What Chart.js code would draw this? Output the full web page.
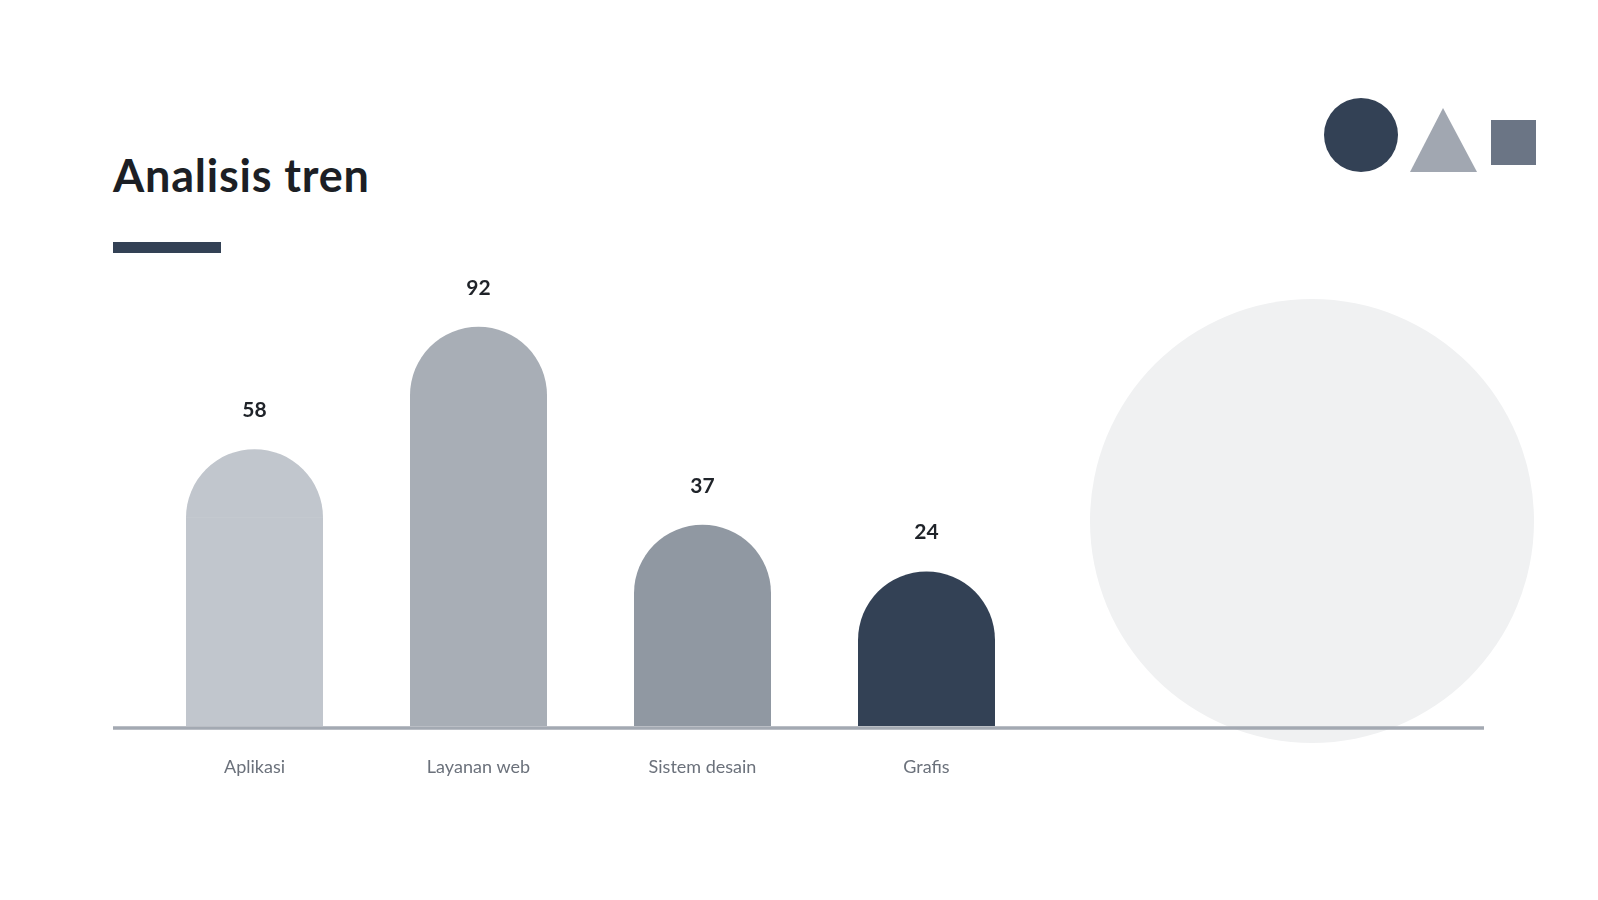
<!DOCTYPE html>
<html>
<head>
<meta charset="utf-8">
<script src="https://cdn.jsdelivr.net/npm/chart.js@4.4.1/dist/chart.umd.min.js"></script>
<style>
  html, body { margin: 0; padding: 0; background: #ffffff; }
  body { width: 1598px; height: 900px; position: relative; overflow: hidden; font-family: Lato, "Noto Sans", sans-serif; }
  #bigCircle { position: absolute; left: 1089.5px; top: 298.7px; width: 444px; height: 444px; border-radius: 50%; background: #f0f1f2; }
  #title { position: absolute; left: 113px; top: 153px; font-size: 45px; letter-spacing: 0.8px; font-weight: 700; color: #1c1f25; line-height: 1; white-space: nowrap; }
  #accent { position: absolute; left: 113px; top: 242px; width: 108px; height: 11px; background: #334155; }
  #deco { position: absolute; left: 0; top: 0; }
  #chartCanvas { position: absolute; left: 0; top: 0; }
</style>
</head>
<body>
<div id="bigCircle"></div>
<div id="title">Analisis tren</div>
<div id="accent"></div>
<svg id="deco" width="1598" height="200">
  <circle cx="1361" cy="135" r="37" fill="#334155"></circle>
  <polygon points="1443,108 1477,172 1410,172" fill="#a1a7b1"></polygon>
  <rect x="1491" y="120" width="45" height="45" fill="#6b7585"></rect>
</svg>
<canvas id="chartCanvas" width="1598" height="900"></canvas>
<script>
const categories = ['Aplikasi', 'Layanan web', 'Sistem desain', 'Grafis'];
const values = [58, 92, 37, 24];
const barColors = ['#c1c6cd', '#a8aeb6', '#9098a2', '#334155'];

const capsAndLabels = {
  id: 'capsAndLabels',
  afterDatasetsDraw(chart) {
    const ctx = chart.ctx;
    const meta = chart.getDatasetMeta(0);
    const yScale = chart.scales.y;
    ctx.save();
    meta.data.forEach((el, i) => {
      const r = el.width / 2;
      ctx.fillStyle = barColors[i];
      ctx.beginPath();
      ctx.arc(el.x, el.y + 0.5, r, Math.PI, 2 * Math.PI);
      ctx.closePath();
      ctx.fill();
      ctx.fillStyle = '#1f2329';
      ctx.font = '700 21px Lato, "Noto Sans", sans-serif';
      ctx.textAlign = 'center';
      ctx.textBaseline = 'middle';
      ctx.fillText(String(values[i]), el.x, el.y - r - 38.5);
    });
    const y0 = yScale.getPixelForValue(0) + 2;
    ctx.strokeStyle = '#a3a9b2';
    ctx.lineWidth = 3.5;
    ctx.beginPath();
    ctx.moveTo(113, y0);
    ctx.lineTo(1484, y0);
    ctx.stroke();
    ctx.restore();
  }
};

new Chart(document.getElementById('chartCanvas'), {
  type: 'bar',
  data: {
    labels: categories,
    datasets: [{
      data: values,
      backgroundColor: barColors,
      borderWidth: 0,
      barPercentage: 0.6116,
      categoryPercentage: 1,
      clip: false
    }]
  },
  options: {
    responsive: false,
    devicePixelRatio: 1,
    animation: false,
    layout: { padding: { left: 142.5, right: 559.5, top: 366, bottom: 92.5 } },
    plugins: { legend: { display: false }, tooltip: { enabled: false } },
    scales: {
      x: {
        grid: { display: false, drawTicks: false },
        border: { display: false },
        ticks: { color: '#6b717b', font: { family: 'Lato', size: 18 }, padding: 30, maxRotation: 0 }
      },
      y: {
        display: false,
        min: 0,
        max: 100
      }
    }
  },
  plugins: [capsAndLabels]
});
</script>
</body>
</html>
